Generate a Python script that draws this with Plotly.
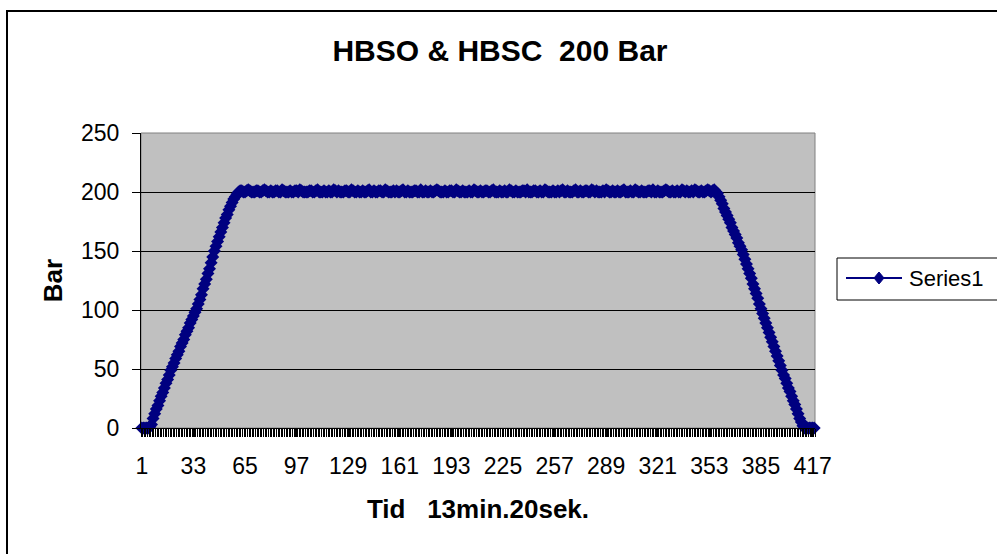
import plotly.graph_objects as go

# ---- data ----
categories = list(range(1, 419))  # sample numbers 1..418

start_zeros = [0, 0, 0, 0, 0, 1]

ramp_up = [3, 8, 12, 16, 19, 23, 27, 30, 34, 38,
           41, 45, 49, 52, 55, 59, 62, 65, 69, 72,
           75, 79, 82, 85, 89, 92, 95, 98, 101, 105,
           109, 113, 118, 122, 126, 131, 135, 140, 145, 150,
           154, 158, 162, 166, 170, 174, 178, 181, 185, 188,
           191, 194, 196, 198, 200, 201]

plateau = [201, 200, 200, 201, 202, 201, 200, 200, 200, 201, 201, 200, 200, 201, 202, 201, 200, 200, 201, 200,
           200, 201, 201, 200, 200, 202, 201, 200, 200, 200, 201, 200, 200, 201, 201, 200, 202, 201, 200, 200,
           200, 200, 201, 201, 200, 200, 201, 202, 200, 200, 200, 201, 200, 200, 201, 200, 200, 202, 201, 200,
           201, 200, 200, 200, 201, 201, 200, 200, 202, 201, 200, 200, 201, 200, 200, 201, 200, 200, 201, 202,
           200, 200, 201, 200, 200, 201, 201, 200, 200, 202, 201, 200, 200, 200, 201, 200, 201, 200, 200, 201,
           202, 200, 200, 201, 200, 200, 200, 201, 201, 200, 200, 202, 200, 200, 201, 200, 200, 201, 200, 200,
           201, 202, 201, 200, 200, 200, 201, 200, 200, 201, 201, 200, 200, 202, 201, 200, 200, 201, 200, 200,
           200, 201, 200, 200, 202, 201, 200, 200, 201, 200, 200, 201, 201, 200, 200, 201, 202, 200, 200, 200,
           201, 200, 200, 201, 200, 200, 202, 201, 200, 200, 201, 200, 200, 200, 201, 201, 200, 202, 200, 200,
           200, 201, 201, 200, 200, 201, 200, 200, 202, 201, 200, 200, 200, 201, 200, 200, 201, 200, 201, 202,
           200, 200, 201, 200, 200, 200, 201, 202, 200, 200, 201, 200, 200, 201, 201, 200, 200, 202, 201, 200,
           201, 200, 200, 200, 201, 200, 202, 201, 200, 200, 201, 200, 200, 201, 200, 200, 201, 202, 200, 200,
           200, 201, 200, 200, 202, 201, 200, 200, 201, 200, 200, 200, 201, 201, 200, 202, 200, 200, 201, 200,
           200, 200, 201, 202, 201, 200, 200, 201, 200, 200, 201, 200, 200, 202, 201, 200, 201, 200, 200, 201,
           200, 202, 201, 200, 200, 201, 200, 200, 201, 202, 201, 200, 201, 202, 200]

ramp_down = [199, 196, 193, 190, 186, 183, 180, 177, 174, 170,
             167, 164, 161, 157, 154, 151, 147, 143, 139, 135,
             131, 127, 122, 118, 114, 110, 105, 101, 97, 93,
             89, 85, 81, 77, 73, 69, 65, 61, 57, 53,
             49, 45, 42, 38, 34, 31, 27, 23, 20, 16,
             12, 8, 5, 2]

end_zeros = [0, 0, 0, 0, 0, 0, 0]

values = start_zeros + ramp_up + plateau + ramp_down + end_zeros

x_tick_values = [1, 33, 65, 97, 129, 161, 193, 225, 257, 289, 321, 353, 385, 417]
x_tick_labels = ["1", "33", "65", "97", "129", "161", "193", "225", "257", "289", "321", "353", "385", "417"]
y_tick_values = [0, 50, 100, 150, 200, 250]
series_name = "Series1"

FONT = "Liberation Sans, Arial, sans-serif"
NAVY = "#000080"

# plot-area geometry in pixels (used only to place the hand-drawn legend / frame)
L, R, T, B = 141, 815, 133, 428
W, H = R - L, B - T


def px(xp):
    return (xp - L) / W


def py(yp):
    return (B - yp) / H


fig = go.Figure()
fig.add_trace(go.Scatter(
    x=categories, y=values, name=series_name,
    mode="lines+markers",
    line=dict(color=NAVY, width=2),
    marker=dict(symbol="diamond", size=10, color=NAVY),
    cliponaxis=False, showlegend=False,
))

# legend drawn as shapes + text (Excel-style long line with diamond)
lx0, lx1, ly = 846, 902, 278
mx, mdx, mdy = 879, 5, 6
diamond_path = (f"M{px(mx - mdx)},{py(ly)} L{px(mx)},{py(ly - mdy)} "
                f"L{px(mx + mdx)},{py(ly)} L{px(mx)},{py(ly + mdy)} Z")

fig.update_layout(
    width=997, height=554,
    margin=dict(l=L, r=997 - R, t=T, b=554 - B),
    paper_bgcolor="white",
    plot_bgcolor="#C0C0C0",
    font=dict(family=FONT, size=23, color="black"),
    title=dict(text="<b>HBSO &amp; HBSC  200 Bar</b>", xref="container", x=0.5015, xanchor="center",
               yref="container", y=1 - 50 / 554, yanchor="middle",
               font=dict(family=FONT, size=30, color="black")),
    showlegend=False,
    xaxis=dict(
        range=[0.5, 418.5], tickmode="array", tickvals=x_tick_values, ticktext=x_tick_labels,
        ticks="outside", ticklen=8, tickcolor="black", tickwidth=1,
        minor=dict(tickmode="linear", tick0=0.5, dtick=1, ticks="outside", ticklen=8,
                   tickcolor="black", tickwidth=1, showgrid=False),
        ticklabelstandoff=9,
        showgrid=False, zeroline=False, showline=True, linecolor="black", linewidth=1,
        tickfont=dict(family=FONT, size=23),
        title=dict(text="<b>Tid   13min.20sek.</b>", standoff=22, font=dict(family=FONT, size=26)),
        fixedrange=True,
    ),
    yaxis=dict(
        range=[0, 250], tickmode="array", tickvals=y_tick_values,
        ticks="outside", ticklen=8, tickcolor="black", tickwidth=1,
        ticklabelstandoff=8,
        showgrid=True, gridcolor="black", gridwidth=1,
        zeroline=False, showline=True, linecolor="black", linewidth=1,
        tickfont=dict(family=FONT, size=23),
        title=dict(text="<b>Bar</b>", standoff=10, font=dict(family=FONT, size=26)),
        fixedrange=True,
    ),
    shapes=[
        dict(type="rect", xref="paper", yref="paper", x0=0, x1=1, y0=0, y1=1,
             line=dict(color="#808080", width=1), fillcolor="rgba(0,0,0,0)", layer="below"),
        dict(type="rect", xref="paper", yref="paper",
             x0=px(7), x1=px(1010), y0=py(570), y1=py(11),
             line=dict(color="black", width=2), fillcolor="rgba(0,0,0,0)", layer="below"),
        dict(type="rect", xref="paper", yref="paper",
             x0=px(837), x1=px(1010), y0=py(300), y1=py(258),
             line=dict(color="black", width=1), fillcolor="white", layer="below"),
        dict(type="line", xref="paper", yref="paper",
             x0=px(lx0), x1=px(lx1), y0=py(ly), y1=py(ly),
             line=dict(color=NAVY, width=2)),
        dict(type="path", xref="paper", yref="paper", path=diamond_path,
             line=dict(color=NAVY, width=1), fillcolor=NAVY),
    ],
    annotations=[
        dict(text=series_name, xref="paper", yref="paper", x=px(907), y=py(ly),
             xanchor="left", yanchor="middle", showarrow=False,
             font=dict(family=FONT, size=22, color="black")),
    ],
)

fig.write_html("out.html", config={"displayModeBar": False},
               post_script="document.body.style.margin='0';")
